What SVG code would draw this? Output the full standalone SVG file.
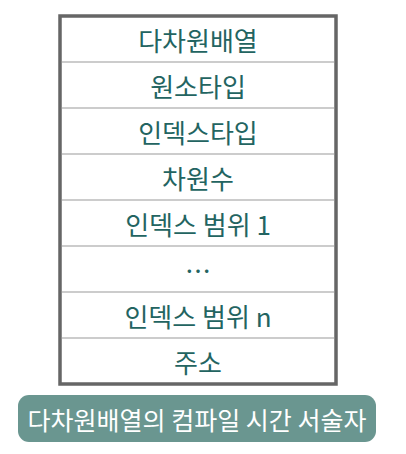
<svg xmlns="http://www.w3.org/2000/svg" width="406" height="454" viewBox="0 0 406 454">
<style>
.t{font-family:"Noto Sans CJK KR","Noto Sans",sans-serif;font-size:26px;font-weight:400;fill:#236461;text-anchor:middle;dominant-baseline:central}
.div{stroke:#9a9a9a;stroke-width:1.2}
.cap{font-family:"Noto Sans CJK KR","Noto Sans",sans-serif;font-size:25px;font-weight:400;fill:#ffffff;text-anchor:middle;dominant-baseline:central}
</style>
<rect x="0" y="0" width="406" height="454" fill="#ffffff"/>
<g id="table">
<rect x="60" y="16" width="276" height="368" fill="#ffffff" stroke="#666666" stroke-width="3.5"/>
</g>
<g id="dividers">
<line class="div" x1="61.75" y1="62" x2="334.25" y2="62"/>
<line class="div" x1="61.75" y1="108" x2="334.25" y2="108"/>
<line class="div" x1="61.75" y1="154" x2="334.25" y2="154"/>
<line class="div" x1="61.75" y1="200" x2="334.25" y2="200"/>
<line class="div" x1="61.75" y1="246" x2="334.25" y2="246"/>
<line class="div" x1="61.75" y1="292" x2="334.25" y2="292"/>
<line class="div" x1="61.75" y1="338" x2="334.25" y2="338"/>
</g>
<g id="row1"><text class="t" x="198" y="39">다차원배열</text></g>
<g id="row2"><text class="t" x="198" y="85">원소타입</text></g>
<g id="row3"><text class="t" x="198" y="131">인덱스타입</text></g>
<g id="row4"><text class="t" x="198" y="177">차원수</text></g>
<g id="row5"><text class="t" x="198" y="223">인덱스 범위 1</text></g>
<g id="row6"><text class="t" x="198" y="269">…</text></g>
<g id="row7"><text class="t" x="198" y="315">인덱스 범위 n</text></g>
<g id="row8"><text class="t" x="198" y="361">주소</text></g>
<g id="caption">
<rect x="18" y="395" width="358" height="47" rx="11" fill="#6a9690"/>
<text class="cap" x="197" y="418.5">다차원배열의 컴파일 시간 서술자</text>
</g>
</svg>
